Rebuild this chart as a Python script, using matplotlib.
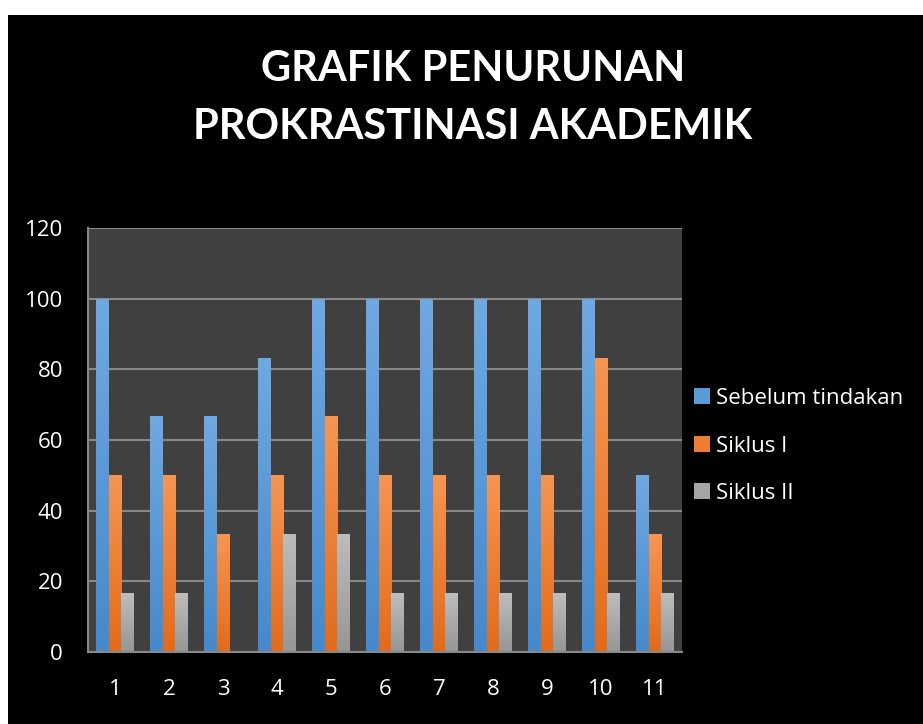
import matplotlib
matplotlib.use('agg')
import matplotlib.pyplot as plt
import numpy as np
from matplotlib.patches import Rectangle
from matplotlib.colors import LinearSegmentedColormap

categories = ['1', '2', '3', '4', '5', '6', '7', '8', '9', '10', '11']
sebelum = [100, 66.67, 66.67, 83.33, 100, 100, 100, 100, 100, 100, 50]
siklus1 = [50, 50, 33.33, 50, 66.67, 50, 50, 50, 50, 83.33, 33.33]
siklus2 = [16.67, 16.67, 0, 33.33, 33.33, 16.67, 16.67, 16.67, 16.67, 16.67, 16.67]
series_names = ['Sebelum tindakan', 'Siklus I', 'Siklus II']

plt.rcParams['font.family'] = ['Open Sans', 'DejaVu Sans']

fig = plt.figure(figsize=(9.23, 7.24), dpi=100, facecolor='white')
# black chart area, white strip on top and left like the screenshot
fig.patches.append(Rectangle((8 / 923, 0), 1, 1 - 15 / 724, transform=fig.transFigure,
                             facecolor='black', edgecolor='none', zorder=-5))

ax = fig.add_axes([88 / 923, 1 - 652 / 724, (682 - 88) / 923, (652 - 228) / 724])
ax.set_zorder(2)
ax.set_facecolor('#404040')

x = np.arange(len(categories))
w = 0.235
cols = ['#5B9BD5', '#ED7D31', '#A5A5A5']
# (top colour, bottom colour) for the excel-like gradient fill
grads = [('#6FA9E2', '#4689CC'), ('#F59654', '#E26B1C'), ('#BDBDBD', '#969696')]
grad_img = np.linspace(1, 0, 256).reshape(-1, 1)
for i, (vals, c, g, name) in enumerate(zip([sebelum, siklus1, siklus2], cols, grads, series_names)):
    bars = ax.bar(x + (i - 1) * w, vals, w, color=c, label=name, zorder=3)
    cmap = LinearSegmentedColormap.from_list('g%d' % i, [g[1], g[0]])
    for b in bars:
        if b.get_height() <= 0:
            continue
        x0, y0 = b.get_x(), b.get_y()
        im = ax.imshow(grad_img, cmap=cmap, aspect='auto', zorder=3.5,
                       extent=[x0, x0 + b.get_width(), y0, y0 + b.get_height()],
                       origin='upper', vmin=0, vmax=1)
        im.set_clip_path(b)

ax.set_ylim(0, 120)
ax.set_yticks(range(0, 121, 20))
ax.set_xlim(-0.5, len(categories) - 0.5)
ax.set_xticks(x)
ax.set_xticklabels(categories)
ax.yaxis.grid(True, color='#888888', linewidth=1.5, zorder=1)
ax.tick_params(colors='white', labelsize=16, length=0, pad=19.5)
ax.tick_params(axis='y', pad=18)
for s in ['top', 'right']:
    ax.spines[s].set_visible(False)
for s in ['left', 'bottom']:
    ax.spines[s].set_color('#888888')
    ax.spines[s].set_linewidth(1.5)
    ax.spines[s].set_zorder(4)

fig.text((473) / 923, 1 - 98 / 724, 'GRAFIK PENURUNAN\nPROKRASTINASI AKADEMIK',
         ha='center', va='center', color='white', fontsize=30, fontweight='bold',
         linespacing=1.62, zorder=3, family=['Lato', 'DejaVu Sans'])

leg = ax.legend(loc='center left', bbox_to_anchor=((694 - 88) / 594, (652 - 446) / 424),
                frameon=False, fontsize=16, labelcolor='white', handlelength=0.72,
                handleheight=0.72, handletextpad=0.25, labelspacing=1.2,
                borderaxespad=0, borderpad=0)

fig.savefig('out.png', dpi=100, facecolor=fig.get_facecolor())
